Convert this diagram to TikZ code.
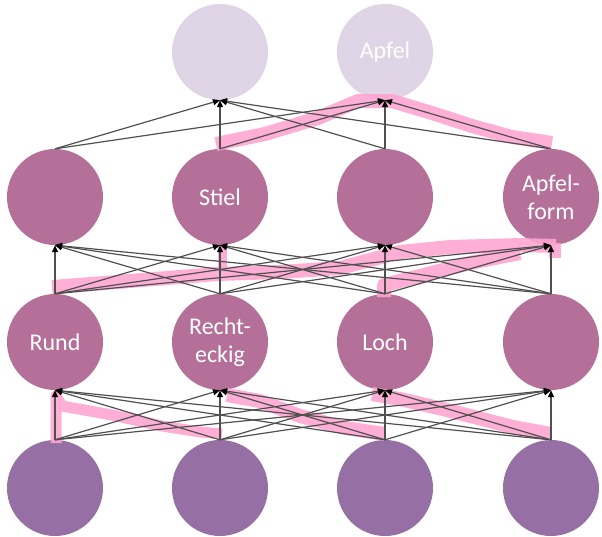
\documentclass[tikz,border=0pt]{standalone}
\usepackage{fontspec}
\setmainfont{Carlito}
\usetikzlibrary{arrows.meta}

\definecolor{toplayer}{RGB}{224,213,230}
\definecolor{midlayer}{RGB}{180,112,152}
\definecolor{inlayer}{RGB}{150,112,164}
\definecolor{highlight}{RGB}{255,165,210}
\definecolor{wire}{RGB}{80,80,80}

\begin{document}
\begin{tikzpicture}[x=1pt,y=-1pt,
  neuron/.style={circle,minimum size=96pt,inner sep=0pt,draw=none,
    text=white,align=center,font=\fontsize{24}{28}\selectfont},
  outn/.style={neuron,fill=toplayer},
  hidn/.style={neuron,fill=midlayer},
  inn/.style={neuron,fill=inlayer},
  link/.style={draw=wire,line width=1.2pt,
    -{Triangle[length=7pt,width=6pt,color=black]}},
  marker/.style={draw=highlight,line width=14pt,line cap=butt,
    line join=round,opacity=0.9}]

\useasboundingbox (0,0) rectangle (602,536);

% output layer
\node[outn] (o1) at (220,52) {};
\node[outn] (o2) at (385,52) {Apfel};

% upper hidden layer
\node[hidn] (g1) at (55,197) {};
\node[hidn] (g2) at (220,197) {Stiel};
\node[hidn] (g3) at (385,197) {};
\node[hidn] (g4) at (551,197) {Apfel-\\form};

% lower hidden layer
\node[hidn] (h1) at (55,342) {Rund};
\node[hidn] (h2) at (220,342) {Recht-\\eckig};
\node[hidn] (h3) at (385,342) {Loch};
\node[hidn] (h4) at (551,342) {};

% input layer
\node[inn] (i1) at (55,488) {};
\node[inn] (i2) at (220,488) {};
\node[inn] (i3) at (385,488) {};
\node[inn] (i4) at (551,488) {};

% highlighter strokes
\draw[marker] (216,144) -- (265,134) -- (318,118) -- (358,101) -- (392,101)
  -- (432,113) -- (472,126) -- (512,137) -- (552,143);
\draw[marker] (52,287) -- (130,281) -- (217,274) -- (280,272) -- (340,268)
  -- (400,252) -- (450,247) -- (520,245) -- (556,246);
\draw[marker,line width=12pt] (555,243) -- (555,258);
\draw[marker,line width=9pt] (222,247) -- (222,272);
\draw[marker] (384,297) -- (384,285) -- (420,276) -- (470,263) -- (520,253);
\draw[marker,line width=11pt] (56,443) -- (56,396) -- (62,406) -- (112,415)
  -- (162,426) -- (200,432) -- (222,434);
\draw[marker] (227,395) -- (260,401) -- (300,416) -- (345,428) -- (385,434);
\draw[marker] (372,394) -- (400,399) -- (447,410) -- (513,427) -- (551,434);

% connections
\foreach \a in {1,...,4}
  \foreach \b in {1,...,4} {
    \draw[link] (i\a.north) -- (h\b.south);
    \draw[link] (h\a.north) -- (g\b.south);
  }
\foreach \a in {1,...,4}
  \foreach \b in {1,2}
    \draw[link] (g\a.north) -- (o\b.south);

\end{tikzpicture}
\end{document}
